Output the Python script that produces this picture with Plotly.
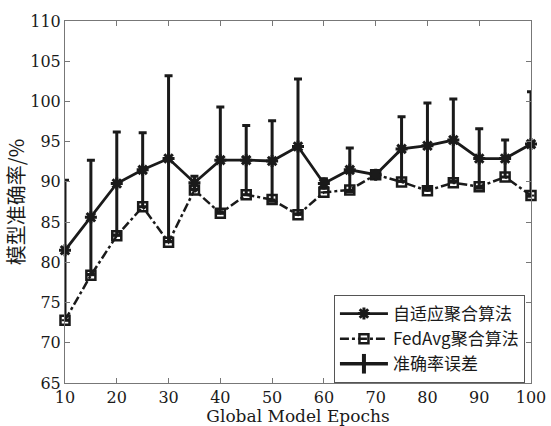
import plotly.graph_objects as go

epochs = [10, 15, 20, 25, 30, 35, 40, 45, 50, 55, 60, 65, 70, 75, 80, 85, 90, 95, 100]
adaptive = [81.5, 85.6, 89.8, 91.5, 92.9, 89.9, 92.7, 92.7, 92.6, 94.4, 89.8, 91.5, 90.9, 94.1, 94.5, 95.2, 92.9, 92.9, 94.7]
adaptive_err = [8.7, 7.1, 6.4, 4.6, 10.3, 0.8, 6.6, 4.3, 5.0, 8.4, 0.6, 2.7, 0.4, 4.0, 5.3, 5.1, 3.7, 2.3, 6.5]
fedavg = [72.8, 78.4, 83.3, 86.9, 82.5, 89.0, 86.1, 88.4, 87.8, 85.9, 88.7, 89.0, 90.9, 90.0, 88.9, 89.9, 89.4, 90.6, 88.3]

names = ["自适应聚合算法", "FedAvg聚合算法", "准确率误差"]
x_title = "Global Model Epochs"
y_title = "模型准确率/%"

ink = "#1a1a1a"
serif = "DejaVu Serif"
cjk = "Noto Sans CJK SC"

fig = go.Figure()

# error bars
fig.add_trace(go.Scatter(
    x=epochs, y=adaptive, mode="markers", showlegend=False, cliponaxis=False,
    marker=dict(size=1, color="rgba(0,0,0,0)"),
    error_y=dict(type="data", array=adaptive_err, visible=True, color=ink, thickness=3, width=4),
    hoverinfo="skip",
))

# FedAvg
fig.add_trace(go.Scatter(
    x=epochs, y=fedavg, mode="lines+markers", name=names[1], cliponaxis=False, legendrank=2,
    line=dict(color=ink, width=2.5, dash="dashdot"),
    marker=dict(symbol="square-open", size=9, color=ink, line=dict(width=2.5, color=ink)),
))
fig.add_trace(go.Scatter(
    x=epochs, y=fedavg, mode="markers", showlegend=False, cliponaxis=False,
    marker=dict(symbol="line-ew-open", size=5, color=ink, line=dict(width=2, color=ink)),
    hoverinfo="skip",
))

# adaptive
fig.add_trace(go.Scatter(
    x=epochs, y=adaptive, mode="lines+markers", name=names[0], cliponaxis=False, legendrank=1,
    line=dict(color=ink, width=2.8),
    marker=dict(symbol="asterisk-open", size=10, color=ink, line=dict(width=3, color=ink)),
))

# legend-only entry for error bars
fig.add_trace(go.Scatter(
    x=[None], y=[None], mode="lines+markers", name=names[2], legendrank=3,
    line=dict(color=ink, width=3.5),
    marker=dict(symbol="line-ns-open", size=14, color=ink, line=dict(width=4, color=ink)),
))

axis_common = dict(
    showline=True, linecolor="#777777", linewidth=1, mirror="ticks",
    ticks="inside", ticklen=5, tickcolor="#777777", showgrid=False, zeroline=False,
    tickfont=dict(family=serif, size=16, color=ink), automargin=False,
)

fig.update_xaxes(range=[10, 100], tick0=10, dtick=10, **axis_common,
                 title=dict(text=x_title, font=dict(family=serif, size=17, color=ink), standoff=0))
fig.update_yaxes(range=[65, 110], tick0=65, dtick=5, **axis_common,
                 title=dict(text=y_title, font=dict(family=cjk, size=20, color=ink), standoff=0))

fig.update_layout(
    width=551, height=426,
    margin=dict(l=65, r=20, t=21, b=43),
    paper_bgcolor="white", plot_bgcolor="white",
    legend=dict(
        x=0.987, y=0.0, xanchor="right", yanchor="bottom",
        bgcolor="white", bordercolor="#555555", borderwidth=1,
        font=dict(family=cjk, size=17, color=ink),
        itemwidth=48, tracegroupgap=0,
        traceorder="normal",
    ),
)

fig.write_html("out.html")
